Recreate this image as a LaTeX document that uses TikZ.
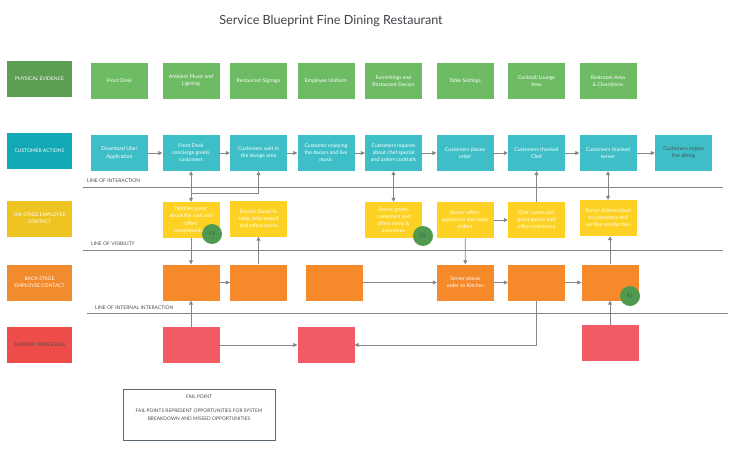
\documentclass[tikz,border=0pt]{standalone}
\usepackage{fontspec}
\setmainfont{Lato}
\usetikzlibrary{arrows.meta}
\definecolor{pelab}{HTML}{5C9E54}
\definecolor{pebox}{HTML}{6DBB63}
\definecolor{calab}{HTML}{12A8B6}
\definecolor{cabox}{HTML}{3EBFC8}
\definecolor{oslab}{HTML}{EDC421}
\definecolor{osbox}{HTML}{FDD224}
\definecolor{bslab}{HTML}{F18B2D}
\definecolor{bsbox}{HTML}{F68A2B}
\definecolor{splab}{HTML}{EE4C48}
\definecolor{spbox}{HTML}{F25B65}
\definecolor{failg}{HTML}{4F9A4F}
\definecolor{lineg}{HTML}{858585}
\definecolor{txtg}{HTML}{4A4F55}
\definecolor{titg}{HTML}{3E4247}
\definecolor{legg}{HTML}{5A6671}
\begin{document}
\begin{tikzpicture}[x=1pt,y=-1pt,
  box/.style={minimum width=57pt,minimum height=36pt,inner sep=1pt,align=center,text=white,font=\fontsize{5.2}{7.1}\selectfont},
  lab/.style={minimum width=65pt,minimum height=36pt,inner sep=1pt,align=center,text=white,font=\fontsize{5}{7}\selectfont},
  sepline/.style={draw=lineg,line width=0.9pt},
  seplab/.style={anchor=west,inner sep=0pt,text=txtg,font=\fontsize{5}{6}\selectfont},
  arr/.style={draw=lineg,line width=0.8pt,-{Triangle[length=4pt,width=4pt]}},
  darr/.style={draw=lineg,line width=0.8pt,{Triangle[length=4pt,width=4pt]}-{Triangle[length=4pt,width=4pt]}},
  plain/.style={draw=lineg,line width=0.8pt},
  fail/.style={circle,fill=failg,minimum size=20pt,inner sep=0pt,text=txtg,font=\fontsize{5}{6}\selectfont}]
\fill[white] (0,0) rectangle (735,449);
\useasboundingbox (0,0) rectangle (735,449);

% title
\node[text=titg,font=\fontsize{12.6}{14}\selectfont] (title) at (331,21) {Service Blueprint Fine Dining Restaurant};

% row labels
\node[lab,fill=pelab] (lpe) at (39.5,79) {PHYSICAL EVIDENCE};
\node[lab,fill=calab] (lca) at (39.5,151) {CUSTOMER ACTIONS};
\node[lab,fill=oslab] (los) at (39.5,218.5) {ON-STAGE EMPLOYEE\\CONTACT};
\node[lab,fill=bslab] (lbs) at (39.5,282.5) {BACK-STAGE\\EMPLOYEE CONTACT};
\node[lab,fill=splab,text=txtg] (lsp) at (39.5,345) {SUPPORT PROCESSES};

% separator lines
\draw[sepline] (83,187) coordinate (li1) -- (723,187) coordinate (li2);
\draw[sepline] (83,250) coordinate (lv1) -- (723,250) coordinate (lv2);
\draw[sepline] (87,313) coordinate (lt1) -- (728,313) coordinate (lt2);
\node[seplab] (tli) at (87,181) {LINE OF INTERACTION};
\node[seplab] (tlv) at (91,244) {LINE OF VISIBILITY};
\node[seplab] (tlt) at (95,307.5) {LINE OF INTERNAL INTERACTION};

% physical evidence
\node[box,fill=pebox] (pe1) at (119.5,81) {Front Desk};
\node[box,fill=pebox] (pe2) at (191,81) {Ambient Music and\\Lighting};
\node[box,fill=pebox] (pe3) at (258.5,81) {Restaurant Signage};
\node[box,fill=pebox] (pe4) at (326,81) {Employee Uniform};
\node[box,fill=pebox] (pe5) at (393.5,81) {Furnishings and\\Restaurant Decors};
\node[box,fill=pebox] (pe6) at (465,81) {Table Settings};
\node[box,fill=pebox] (pe7) at (536.5,81) {Cocktail/Lounge\\Area};
\node[box,fill=pebox] (pe8) at (608,81) {Restroom Area\\\& Cleanliness};

% customer actions
\node[box,fill=cabox] (ca1) at (119.5,153) {Download Uber\\Application};
\node[box,fill=cabox] (ca2) at (191,153) {Front Desk\\concierge greets\\customers};
\node[box,fill=cabox] (ca3) at (258.5,153) {Customers wait in\\the lounge area};
\node[box,fill=cabox] (ca4) at (326,153) {Customer enjoying\\the decors and live\\music};
\node[box,fill=cabox] (ca5) at (393.5,153) {Customers inquires\\about chef special\\and orders cocktails};
\node[box,fill=cabox] (ca6) at (465,153) {Customers places\\order};
\node[box,fill=cabox] (ca7) at (536.5,153) {Customers thanked\\Chef};
\node[box,fill=cabox] (ca8) at (608,153) {Customers thanked\\server};
\node[box,fill=cabox,text=txtg] (ca9) at (683.5,153) {Customers enjoys\\fine dining};

% on-stage
\node[box,fill=osbox] (os2) at (191,220) {Notifies  guest\\about the wait and\\offers\\complimentary};
\node[box,fill=osbox] (os3) at (258.5,218.5) {Escorts Guest to\\table, help seated\\and offers menu};
\node[box,fill=osbox] (os5) at (393.5,220) {Server greets\\customers and\\offers menu \&\\assistance};
\node[box,fill=osbox] (os6) at (465,220) {Server offers\\appetizers and takes\\orders};
\node[box,fill=osbox] (os7) at (536.5,220) {Chef comes out,\\greet guests and\\offers assistance};
\node[box,fill=osbox] (os8) at (608,218) {Server delivers food\\to customers and\\verifies satisfaction};

% back-stage
\node[box,fill=bsbox] (bs2) at (191,282.5) {};
\node[box,fill=bsbox] (bs3) at (258.5,282.5) {};
\node[box,fill=bsbox] (bs4) at (334,282.5) {};
\node[box,fill=bsbox] (bs6) at (465.5,282.5) {Server places\\order to Kitchen};
\node[box,fill=bsbox] (bs7) at (536.5,282.5) {};
\node[box,fill=bsbox] (bs8) at (610,282.5) {};

% support
\node[box,fill=spbox] (sp2) at (191,345) {};
\node[box,fill=spbox] (sp4) at (326,345) {};
\node[box,fill=spbox] (sp8) at (610,343) {};

% customer flow
\draw[arr] (ca1) -- (ca2);
\draw[arr] (ca2) -- (ca3);
\draw[arr] (ca3) -- (ca4);
\draw[arr] (ca4) -- (ca5);
\draw[arr] (ca5) -- (ca6);
\draw[arr] (ca6) -- (ca7);
\draw[arr] (ca7) -- (ca8);
\draw[arr] (ca8) -- (ca9);

% vertical connectors
\draw[darr] (ca2) -- (os2);
\coordinate (j1) at (191,193);
\draw[arr] (j1) -| (ca3.south);
\draw[arr] (os2) -- (bs2);
\draw[arr] (bs3) -- (os3);
\draw[arr] (bs2) -- (bs3);
\draw[arr] (bs4) -- (bs6);
\draw[arr] (sp2) -- (bs2);
\draw[arr] (sp2) -- (sp4);
\draw[arr] (bs7.south) |- (sp4.east);
\draw[darr] (ca5) -- (os5);
\draw[arr] (os6) -- (os7);
\draw[arr] (os6) -- (bs6);
\draw[arr] (os7) -- (ca7);
\draw[darr] (ca8) -- (os8);
\draw[arr] (bs6) -- (bs7);
\draw[arr] (bs7) -- (bs8);
\draw[arr] (bs8.north) -- (os8.south -| bs8.north);
\draw[arr] (sp8) -- (bs8);

% fail points
\node[fail] (f1) at (212,234) {F1};
\node[fail] (f2) at (423,236) {F2};
\node[fail] (f3) at (630,296) {F3};

% legend
\node[draw=legg,line width=0.9pt,minimum width=152pt,minimum height=51pt,inner sep=0pt] (leg) at (199,414.5) {};
\node[text=txtg,font=\fontsize{4.9}{6}\selectfont] (legt) at (199,397) {FAIL POINT};
\node[text=txtg,font=\fontsize{4.9}{8}\selectfont,align=center] (legd) at (199,415) {FAIL POINTS REPRESENT OPPORTUNITIES FOR SYSTEM\\BREAKDOWN AND MISSED OPPORTUNITIES};
\end{tikzpicture}
\end{document}
